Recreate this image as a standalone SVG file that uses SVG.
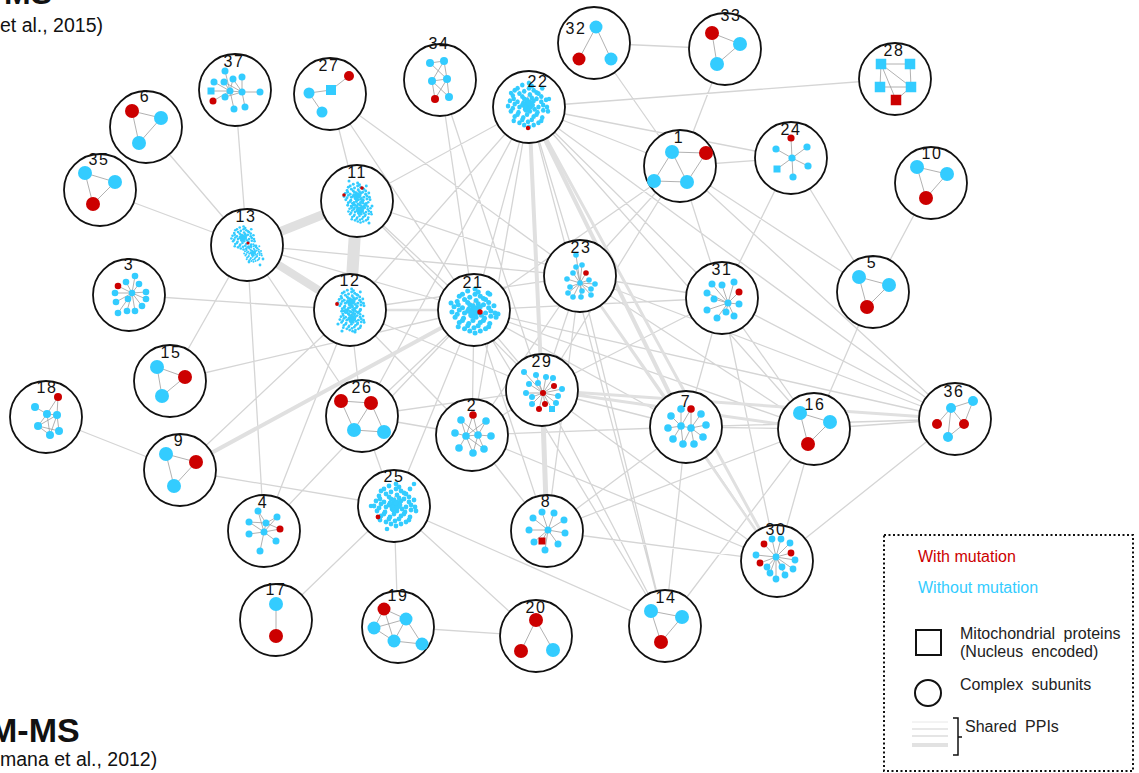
<svg xmlns="http://www.w3.org/2000/svg" width="1139" height="773" viewBox="0 0 1139 773">
<style>
.e{stroke:#d5d5d5;stroke-width:1.3;fill:none}
.m{stroke:#e0e0e0;fill:none}
.ring{fill:#fff;stroke:#111;stroke-width:1.8}
.ie{stroke:#9d9d9d;stroke-width:0.8;fill:none}
.b{fill:#33ccff}
.r{fill:#cc0000}
.lbl{font-family:"Liberation Sans",Arial,sans-serif;font-size:16px;fill:#111;text-anchor:middle;letter-spacing:1.5px}
.lg{font-family:"Liberation Sans",Arial,sans-serif;font-size:16px;fill:#222;word-spacing:4px}
.ttl{font-family:"Liberation Sans",Arial,sans-serif;fill:#111}
</style>
<defs>
<g id="cl">
<path class="ie" d="M-5,-3L4,2M-2,-6L1,5M-6,2L5,-2M-3,4L3,-4M-9,2L6,-4M0,-9L-1,7"/>
<g class="b">
<circle cx="-6" cy="-19" r="2.4"/><circle cx="1" cy="-21" r="2.4"/><circle cx="4" cy="-18" r="2.4"/>
<circle cx="-14" cy="-14" r="2.4"/><circle cx="-11" cy="-16" r="2.4"/><circle cx="-4" cy="-13" r="2.4"/><circle cx="1" cy="-16" r="2.4"/><circle cx="6" cy="-14" r="2.4"/><circle cx="9" cy="-12" r="2.4"/><circle cx="15" cy="-16" r="2.4"/>
<circle cx="-16" cy="-9" r="2.4"/><circle cx="-9" cy="-11" r="2.4"/><circle cx="-6" cy="-8" r="2.4"/><circle cx="2" cy="-10" r="2.4"/><circle cx="4" cy="-7" r="2.4"/><circle cx="11" cy="-11" r="2.4"/><circle cx="14" cy="-8" r="2.4"/>
<circle cx="-19" cy="-4" r="2.4"/><circle cx="-15" cy="-6" r="2.4"/><circle cx="-11" cy="-3" r="2.4"/><circle cx="-4" cy="-6" r="2.4"/><circle cx="-1" cy="-3" r="2.4"/><circle cx="6" cy="-4" r="2.4"/><circle cx="9" cy="-6" r="2.4"/><circle cx="14" cy="-3" r="2.4"/><circle cx="19" cy="-5" r="2.4"/>
<circle cx="-21" cy="1" r="2.4"/><circle cx="-14" cy="-1" r="2.4"/><circle cx="-9" cy="2" r="2.4"/><circle cx="-6" cy="0" r="2.4"/><circle cx="1" cy="1" r="2.4"/><circle cx="4" cy="-1" r="2.4"/><circle cx="11" cy="2" r="2.4"/><circle cx="16" cy="0" r="2.4"/><circle cx="20" cy="2" r="2.4"/>
<circle cx="-18" cy="6" r="2.4"/><circle cx="-16" cy="3" r="2.4"/><circle cx="-10" cy="7" r="2.4"/><circle cx="-3" cy="4" r="2.4"/><circle cx="2" cy="6" r="2.4"/><circle cx="7" cy="4" r="2.4"/><circle cx="10" cy="7" r="2.4"/><circle cx="16" cy="5" r="2.4"/><circle cx="21" cy="6" r="2.4"/>
<circle cx="-14" cy="11" r="2.4"/><circle cx="-11" cy="9" r="2.4"/><circle cx="-5" cy="12" r="2.4"/><circle cx="-1" cy="9" r="2.4"/><circle cx="6" cy="11" r="2.4"/><circle cx="9" cy="9" r="2.4"/><circle cx="15" cy="12" r="2.4"/>
<circle cx="-15" cy="15" r="2.4"/><circle cx="-9" cy="17" r="2.4"/><circle cx="-6" cy="14" r="2.4"/><circle cx="0" cy="16" r="2.4"/><circle cx="4" cy="14" r="2.4"/><circle cx="11" cy="17" r="2.4"/><circle cx="14" cy="15" r="2.4"/>
<circle cx="-4" cy="19" r="2.4"/><circle cx="1" cy="21" r="2.4"/><circle cx="6" cy="19" r="2.4"/>
<circle cx="-2" cy="-1" r="2.4"/><circle cx="2" cy="-3" r="2.4"/><circle cx="0" cy="3" r="2.4"/><circle cx="-3" cy="2" r="2.4"/><circle cx="3" cy="2" r="2.4"/><circle cx="-1" cy="-5" r="2.4"/><circle cx="5" cy="0" r="2.4"/><circle cx="-5" cy="-2" r="2.4"/><circle cx="1" cy="-2" r="2.4"/><circle cx="-2" cy="5" r="2.4"/>
</g>
</g>
</defs>

<!-- titles -->
<text class="ttl" x="52" y="4" font-size="32" font-weight="bold" text-anchor="end">MS</text>
<text class="ttl" x="0" y="32" font-size="19.5">et al., 2015)</text>
<text class="ttl" x="-11" y="742" font-size="34" font-weight="bold">M-MS</text>
<text class="ttl" x="0" y="766" font-size="19.5">mana et al., 2012)</text>

<g id="connectors">
<path class="e" d="M146 127L247 245M100 190L247 245M235 90L247 245M330 94L357 201M330 94L474 310M330 94L580 276M357 201L529 107M129 295L350 310M170 381L247 245M170 381L474 310M247 245L264 531M247 245L362 416M247 245L580 276M247 245L474 310M180 470L46 417M180 470L350 310M180 470L394 506M264 531L350 310M264 531L474 310M276 620L394 506M394 506L398 627M394 506L536 636M394 506L665 626M362 416L394 506M398 627L536 636M394 506L474 310M440 80L474 310M440 80L542 390M529 107L350 310M529 107L474 310M529 107L362 416M529 107L472 435M529 107L580 276M529 107L680 166M529 107L791 158M529 107L895 79M529 107L722 298M529 107L814 429M529 107L955 419M529 107L665 626M594 43L725 49M594 43L680 166M725 49L680 166M680 166L791 158M680 166L580 276M680 166L722 298M680 166L873 292M680 166L474 310M680 166L955 419M680 166L542 390M791 158L722 298M791 158L873 292M931 183L873 292M873 292L814 429M722 298L580 276M722 298L474 310M722 298L955 419M722 298L686 427M722 298L814 429M722 298L542 390M722 298L777 561M580 276L350 310M580 276L357 201M580 276L542 390M580 276L472 435M580 276L547 531M580 276L955 419M580 276L814 429M580 276L665 626M474 310L362 416M474 310L472 435M474 310L542 390M474 310L547 531M474 310L686 427M474 310L955 419M474 310L814 429M474 310L665 626M350 310L362 416M350 310L542 390M350 310L472 435M362 416L542 390M362 416L472 435M472 435L542 390M472 435L547 531M472 435L686 427M472 435L777 561M542 390L665 626M542 390L777 561M542 390L686 427M686 427L547 531M686 427L777 561M686 427L665 626M686 427L955 419M686 427L814 429M547 531L777 561M547 531L814 429M814 429L777 561M814 429L665 626M814 429L955 419M955 419L777 561M357 201L474 310M357 201L542 390"/>
<path class="m" stroke-width="12" d="M357 201L350 310"/>
<path class="m" stroke-width="9" d="M357 201L247 245"/>
<path class="m" stroke-width="8" d="M350 310L247 245"/>
<path class="m" stroke-width="4" d="M529 107L542 390M180 470L474 310M529 107L686 427"/>
<path class="m" stroke-width="5" d="M542 390L547 531"/>
<path class="m" stroke-width="3" d="M529 107L777 561M542 390L814 429M542 390L955 419"/>
<path class="m" stroke-width="2.5" d="M580 276L686 427M350 310L474 310M580 276L777 561"/>
</g>

<g id="n1" transform="translate(680,166)"><circle class="ring" r="36"/><path class="ie" d="M-8,-14L26,-13M-8,-14L-26,15M-8,-14L7,16M26,-13L7,16M-26,15L7,16"/><circle class="b" cx="-8" cy="-14" r="7"/><circle class="r" cx="26" cy="-13" r="7"/><circle class="b" cx="-26" cy="15" r="7"/><circle class="b" cx="7" cy="16" r="7"/><text class="lbl" x="-1" y="-23">1</text></g>

<g id="n2" transform="translate(472,435)"><circle class="ring" r="36"/><path class="ie" d="M-6,1L-11,-15M-6,1L14,-14M-6,1L-17,-2M-6,1L6,0M-6,1L-13,13M-6,1L12,14M-6,1L1,18M-6,1L1,-20M6,0L14,-14M6,0L19,1M6,0L12,14M6,0L-11,-15M6,0L1,18M6,0L1,-20"/><g class="b"><circle cx="-11" cy="-15" r="3.8"/><circle cx="14" cy="-14" r="3.8"/><circle cx="-17" cy="-2" r="3.8"/><circle cx="-6" cy="1" r="3.8"/><circle cx="6" cy="0" r="3.8"/><circle cx="19" cy="1" r="3.8"/><circle cx="-13" cy="13" r="3.8"/><circle cx="12" cy="14" r="3.8"/><circle cx="1" cy="18" r="3.8"/></g><circle class="r" cx="1" cy="-20" r="3.8"/><text class="lbl" x="0" y="-24">2</text></g>

<g id="n3" transform="translate(129,295)"><circle class="ring" r="36"/><path class="ie" d="M3,-2L6,-19M3,-2L-3,-13M3,-2L-11,-9M3,-2L10,-11M3,-2L-14,-2M3,-2L17,-3M3,-2L-13,7M3,-2L-1,4M3,-2L17,4M3,-2L13,11M3,-2L-11,18M3,-2L-2,16M3,-2L6,16"/><g class="b"><circle cx="6" cy="-19" r="3.3"/><circle cx="-3" cy="-13" r="3.3"/><circle cx="10" cy="-11" r="3.3"/><circle cx="-14" cy="-2" r="3.3"/><circle cx="3" cy="-2" r="3.3"/><circle cx="17" cy="-3" r="3.3"/><circle cx="-13" cy="7" r="3.3"/><circle cx="-1" cy="4" r="3.3"/><circle cx="17" cy="4" r="3.3"/><circle cx="13" cy="11" r="3.3"/><circle cx="-11" cy="18" r="3.3"/><circle cx="-2" cy="16" r="3.3"/><circle cx="6" cy="16" r="3.3"/></g><circle class="r" cx="-11" cy="-9" r="3.3"/><text class="lbl" x="0" y="-25">3</text></g>

<g id="n4" transform="translate(264,531)"><circle class="ring" r="36"/><path class="ie" d="M0,1L-6,-20M0,1L13,-14M0,1L-15,-9M0,1L2,-8M0,1L16,-2M0,1L-15,3M0,1L12,10M0,1L-4,20M2,-8L-6,-20M2,-8L13,-14M2,-8L16,-2M2,-8L-15,-9"/><g class="b"><circle cx="-6" cy="-20" r="3.5"/><circle cx="13" cy="-14" r="3.5"/><circle cx="-15" cy="-9" r="3.5"/><circle cx="2" cy="-8" r="3.5"/><circle cx="-15" cy="3" r="3.5"/><circle cx="0" cy="1" r="3.5"/><circle cx="12" cy="10" r="3.5"/><circle cx="-4" cy="20" r="3.5"/></g><circle class="r" cx="16" cy="-2" r="3.5"/><text class="lbl" x="-1" y="-23">4</text></g>

<g id="n5" transform="translate(873,292)"><circle class="ring" r="36"/><path class="ie" d="M-14,-15L16,-7L-6,15Z"/><circle class="b" cx="-14" cy="-15" r="7"/><circle class="b" cx="16" cy="-7" r="7"/><circle class="r" cx="-6" cy="15" r="7"/><text class="lbl" x="-1" y="-24">5</text></g>

<g id="n6" transform="translate(146,127)"><circle class="ring" r="36"/><path class="ie" d="M-14,-16L15,-9L-7,16Z"/><circle class="r" cx="-14" cy="-16" r="7"/><circle class="b" cx="15" cy="-9" r="7"/><circle class="b" cx="-7" cy="16" r="7"/><text class="lbl" x="-1" y="-25">6</text></g>

<g id="n7" transform="translate(686,427)"><circle class="ring" r="36"/><path class="ie" d="M-5,-1L5,-18M-5,-1L-5,-18M-5,-1L-15,-11M-5,-1L-18,1M-5,-1L-13,12M-5,-1L-3,17M-5,-1L5,1M5,1L15,-13M5,1L20,-2M5,1L17,10M5,1L8,17M5,1L5,-18M5,1L-3,17"/><g class="b"><circle cx="-5" cy="-18" r="3.8"/><circle cx="15" cy="-13" r="3.8"/><circle cx="-15" cy="-11" r="3.8"/><circle cx="20" cy="-2" r="3.8"/><circle cx="-5" cy="-1" r="3.8"/><circle cx="5" cy="1" r="3.8"/><circle cx="-18" cy="1" r="3.8"/><circle cx="17" cy="10" r="3.8"/><circle cx="-13" cy="12" r="3.8"/><circle cx="-3" cy="17" r="3.8"/><circle cx="8" cy="17" r="3.8"/></g><circle class="r" cx="5" cy="-18" r="3.8"/><text class="lbl" x="0" y="-20">7</text></g>

<g id="n8" transform="translate(547,531)"><circle class="ring" r="36"/><path class="ie" d="M1,-1L-5,-19M1,-1L7,-18M1,-1L-14,-13M1,-1L17,-11M1,-1L-18,-1M1,-1L18,2M1,-1L-13,11M1,-1L-5,10M1,-1L11,13M1,-1L-2,19"/><g class="b"><circle cx="-5" cy="-19" r="3.5"/><circle cx="7" cy="-18" r="3.5"/><circle cx="-14" cy="-13" r="3.5"/><circle cx="17" cy="-11" r="3.5"/><circle cx="-18" cy="-1" r="3.5"/><circle cx="1" cy="-1" r="3.5"/><circle cx="18" cy="2" r="3.5"/><circle cx="-13" cy="11" r="3.5"/><circle cx="11" cy="13" r="3.5"/><circle cx="-2" cy="19" r="3.5"/></g><rect class="r" x="-8.5" y="6.5" width="7" height="7"/><text class="lbl" x="-1" y="-24">8</text></g>

<g id="n9" transform="translate(180,470)"><circle class="ring" r="36"/><path class="ie" d="M-14,-16L16,-8L-6,16Z"/><circle class="b" cx="-14" cy="-16" r="7"/><circle class="r" cx="16" cy="-8" r="7"/><circle class="b" cx="-6" cy="16" r="7"/><text class="lbl" x="-1" y="-24">9</text></g>

<g id="n10" transform="translate(931,183)"><circle class="ring" r="36"/><path class="ie" d="M-14,-16L16,-9L-5,15Z"/><circle class="b" cx="-14" cy="-16" r="7"/><circle class="b" cx="16" cy="-9" r="7"/><circle class="r" cx="-5" cy="15" r="7"/><text class="lbl" x="1" y="-24">10</text></g>

<g id="n11" transform="translate(357,201)"><circle class="ring" r="36"/><use href="#cl" transform="translate(0,-5) scale(0.62)"/><use href="#cl" transform="translate(3,10) scale(0.55)"/><g class="b"><circle cx="-8" cy="-20" r="1.5"/><circle cx="12" cy="22" r="1.5"/><circle cx="15" cy="5" r="1.5"/></g><circle class="r" cx="-13" cy="-6" r="1.8"/><circle class="r" cx="5" cy="-13" r="1.8"/><text class="lbl" x="0" y="-23">11</text></g>

<g id="n12" transform="translate(350,310)"><circle class="ring" r="36"/><use href="#cl" transform="translate(1,-8) scale(0.62)"/><use href="#cl" transform="translate(2,9) scale(0.58)"/><g class="b"><circle cx="-8" cy="21" r="1.6"/><circle cx="5" cy="22" r="1.6"/><circle cx="-12" cy="14" r="1.6"/></g><circle class="r" cx="-13" cy="-6" r="1.9"/><text class="lbl" x="0" y="-24">12</text></g>

<g id="n13" transform="translate(247,245)"><circle class="ring" r="36"/><use href="#cl" transform="translate(-4,-7) scale(0.55)"/><use href="#cl" transform="translate(6,8) scale(0.42)"/><g class="b"><circle cx="13" cy="20" r="1.4"/><circle cx="16" cy="14" r="1.4"/><circle cx="2" cy="17" r="1.4"/><circle cx="9" cy="1" r="1.4"/></g><circle class="r" cx="1" cy="-2" r="1.6"/><text class="lbl" x="-1" y="-23">13</text></g>

<g id="n14" transform="translate(665,626)"><circle class="ring" r="36"/><path class="ie" d="M-14,-15L17,-9L-4,16Z"/><circle class="b" cx="-14" cy="-15" r="7"/><circle class="b" cx="17" cy="-9" r="7"/><circle class="r" cx="-4" cy="16" r="7"/><text class="lbl" x="1" y="-23">14</text></g>

<g id="n15" transform="translate(170,381)"><circle class="ring" r="36"/><path class="ie" d="M-13,-14L15,-4L-8,15Z"/><circle class="b" cx="-13" cy="-14" r="7"/><circle class="r" cx="15" cy="-4" r="7"/><circle class="b" cx="-8" cy="15" r="7"/><text class="lbl" x="1" y="-23">15</text></g>

<g id="n16" transform="translate(814,429)"><circle class="ring" r="36"/><path class="ie" d="M-14,-16L16,-7L-6,15Z"/><circle class="b" cx="-14" cy="-16" r="7"/><circle class="b" cx="16" cy="-7" r="7"/><circle class="r" cx="-6" cy="15" r="7"/><text class="lbl" x="1" y="-19">16</text></g>

<g id="n17" transform="translate(276,620)"><circle class="ring" r="36"/><path class="ie" d="M0,-16V16"/><circle class="b" cx="0" cy="-16" r="7"/><circle class="r" cx="0" cy="16" r="7"/><text class="lbl" x="0" y="-25">17</text></g>

<g id="n18" transform="translate(46,417)"><circle class="ring" r="36"/><path class="ie" d="M12,-20L11,-2M12,-20L1,-3M-11,-10L1,-3M1,-3L11,-2M1,-3L-8,9M1,-3L4,18M11,-2L-8,9M11,-2L13,14M-8,9L4,18M-8,9L13,14M11,-2L4,18"/><g class="b"><circle cx="-11" cy="-10" r="4"/><circle cx="1" cy="-3" r="4"/><circle cx="11" cy="-2" r="4"/><circle cx="-8" cy="9" r="4"/><circle cx="4" cy="18" r="4"/><circle cx="13" cy="14" r="4"/></g><circle class="r" cx="12" cy="-20" r="4"/><text class="lbl" x="1" y="-24">18</text></g>

<g id="n19" transform="translate(398,627)"><circle class="ring" r="36"/><path class="ie" d="M-14,-18L8,-8M-14,-18L-4,14M-14,-18L-24,1M8,-8L-24,1M8,-8L-4,14M8,-8L24,17M-24,1L-4,14M-4,14L24,17"/><circle class="r" cx="-14" cy="-18" r="6.5"/><g class="b"><circle cx="8" cy="-8" r="6.5"/><circle cx="-24" cy="1" r="6.5"/><circle cx="-4" cy="14" r="6.5"/><circle cx="24" cy="17" r="6.5"/></g><text class="lbl" x="0" y="-26">19</text></g>

<g id="n20" transform="translate(536,636)"><circle class="ring" r="36"/><path class="ie" d="M-15,15L0,-16L17,14"/><circle class="r" cx="0" cy="-16" r="7"/><circle class="r" cx="-15" cy="15" r="7"/><circle class="b" cx="17" cy="14" r="7"/><text class="lbl" x="0" y="-23">20</text></g>

<g id="n21" transform="translate(474,310)"><circle class="ring" r="36"/><use href="#cl" transform="translate(0,1) scale(1.05)"/><g class="b"><circle cx="24" cy="4" r="2.5"/><circle cx="14" cy="-17" r="2.5"/><circle cx="-23" cy="-7" r="2.5"/></g><circle class="r" cx="6" cy="2" r="2.7"/><text class="lbl" x="-1" y="-22">21</text></g>

<g id="n22" transform="translate(529,107)"><circle class="ring" r="36"/><use href="#cl" transform="translate(-1,-2) scale(0.95,1.05)"/><g class="b"><circle cx="-18" cy="-14" r="2.2"/><circle cx="20" cy="-8" r="2.2"/></g><circle class="r" cx="-1" cy="21" r="2.2"/><text class="lbl" x="9" y="-20">22</text></g>

<g id="n23" transform="translate(580,276)"><circle class="ring" r="36"/><path class="ie" d="M0,7L-4,-21M0,7L2,-11M0,7L-4,-9M0,7L6,-3M0,7L-7,-3M0,7L-13,3M0,7L9,4M0,7L15,8M0,7L-10,11M0,7L2,15M0,7L11,13M0,7L-7,21M0,7L1,21M0,7L11,19M0,7L-12,17"/><g class="b"><circle cx="-4" cy="-21" r="2.8"/><circle cx="2" cy="-11" r="2.8"/><circle cx="-4" cy="-9" r="2.8"/><circle cx="-7" cy="-3" r="2.8"/><circle cx="-13" cy="3" r="2.8"/><circle cx="0" cy="7" r="2.8"/><circle cx="9" cy="4" r="2.8"/><circle cx="15" cy="8" r="2.8"/><circle cx="-10" cy="11" r="2.8"/><circle cx="2" cy="15" r="2.8"/><circle cx="11" cy="13" r="2.8"/><circle cx="-7" cy="21" r="2.8"/><circle cx="1" cy="21" r="2.8"/><circle cx="11" cy="19" r="2.8"/><circle cx="-12" cy="17" r="2.8"/></g><circle class="r" cx="6" cy="-3" r="2.8"/><text class="lbl" x="1" y="-23">23</text></g>

<g id="n24" transform="translate(791,158)"><circle class="ring" r="36"/><path class="ie" d="M1,0L0,-20M1,0L-15,-9M1,0L16,-11M1,0L-14,11M1,0L17,8M1,0L2,19"/><circle class="r" cx="0" cy="-20" r="3.6"/><g class="b"><circle cx="-15" cy="-9" r="3.6"/><circle cx="16" cy="-11" r="3.6"/><circle cx="1" cy="0" r="3.6"/><rect x="-17.5" y="7.5" width="7" height="7"/><circle cx="17" cy="8" r="3.6"/><circle cx="2" cy="19" r="3.6"/></g><text class="lbl" x="0" y="-23">24</text></g>

<g id="n25" transform="translate(394,506)"><circle class="ring" r="36"/><use href="#cl" transform="translate(1,-1)"/><g class="b"><circle cx="20" cy="-22" r="2.3"/><circle cx="-23" cy="0" r="2.3"/><circle cx="-7" cy="23" r="2.3"/></g><circle class="r" cx="-16" cy="11" r="2.4"/><text class="lbl" x="0" y="-24">25</text></g>

<g id="n26" transform="translate(362,416)"><circle class="ring" r="36"/><path class="ie" d="M-21,-15L9,-13M-21,-15L-8,14M9,-13L-8,14M9,-13L22,16M-8,14L22,16"/><circle class="r" cx="-21" cy="-15" r="7"/><circle class="r" cx="9" cy="-13" r="7"/><circle class="b" cx="-8" cy="14" r="7"/><circle class="b" cx="22" cy="16" r="7"/><text class="lbl" x="0" y="-23">26</text></g>

<g id="n27" transform="translate(330,94)"><circle class="ring" r="36"/><path class="ie" d="M19,-18L1,-4L-21,-1L-8,18"/><circle class="r" cx="19" cy="-18" r="5"/><rect class="b" x="-4" y="-9" width="10" height="10"/><circle class="b" cx="-21" cy="-1" r="5.5"/><circle class="b" cx="-8" cy="18" r="5.5"/><text class="lbl" x="-1" y="-23">27</text></g>

<g id="n28" transform="translate(895,79)"><circle class="ring" r="36"/><path class="ie" d="M-14,-15H15M-14,-15L-15,8M-15,8H16M-14,-15L16,8M15,-15L16,8M-14,-15L1,21M16,8L1,21"/><g class="b"><rect x="-19.25" y="-20.25" width="10.5" height="10.5"/><rect x="9.75" y="-20.25" width="10.5" height="10.5"/><rect x="-20.25" y="2.75" width="10.5" height="10.5"/><rect x="10.75" y="2.75" width="10.5" height="10.5"/></g><rect class="r" x="-4.25" y="15.75" width="10.5" height="10.5"/><text class="lbl" x="-1" y="-23">28</text></g>

<g id="n29" transform="translate(542,390)"><circle class="ring" r="36"/><path class="ie" d="M1,3L-18,-18M1,3L-6,-15M1,3L4,-13M1,3L11,-12M1,3L-13,-6M1,3L-4,-7M1,3L12,-4M1,3L20,-1M1,3L-16,3M1,3L16,6M1,3L-10,7M1,3L3,14M1,3L-3,19M1,3L-10,14M1,3L10,19M1,3L14,13"/><g class="b"><circle cx="-18" cy="-18" r="3"/><circle cx="-6" cy="-15" r="3"/><circle cx="4" cy="-13" r="3"/><circle cx="11" cy="-12" r="3"/><circle cx="-13" cy="-6" r="3"/><circle cx="-4" cy="-7" r="3"/><circle cx="20" cy="-1" r="3"/><circle cx="-16" cy="3" r="3"/><circle cx="16" cy="6" r="3"/><circle cx="-10" cy="7" r="3"/><circle cx="-10" cy="14" r="3"/><rect x="7" y="16" width="6" height="6"/><circle cx="14" cy="13" r="3"/></g><g class="r"><circle cx="12" cy="-4" r="3"/><circle cx="1" cy="3" r="3"/><circle cx="3" cy="14" r="3"/><circle cx="-3" cy="19" r="3"/></g><text class="lbl" x="0" y="-23">29</text></g>

<g id="n30" transform="translate(777,561)"><circle class="ring" r="36"/><path class="ie" d="M-1,-4L-5,-22M-1,-4L4,-22M-1,-4L13,-18M-1,-4L-13,-17M-1,-4L14,-8M-1,-4L18,-1M-1,-4L-17,2M-1,-4L-10,6M-1,-4L5,6M-1,-4L16,8M-1,-4L-7,12M-1,-4L-1,18M-1,-4L8,14M-1,-4L-21,-6"/><g class="b"><circle cx="-5" cy="-22" r="3.4"/><circle cx="4" cy="-22" r="3.4"/><circle cx="13" cy="-18" r="3.4"/><circle cx="-1" cy="-4" r="3.4"/><circle cx="18" cy="-1" r="3.4"/><circle cx="-10" cy="6" r="3.4"/><circle cx="5" cy="6" r="3.4"/><circle cx="16" cy="8" r="3.4"/><circle cx="-7" cy="12" r="3.4"/><circle cx="-1" cy="18" r="3.4"/><circle cx="8" cy="14" r="3.4"/><circle cx="-21" cy="-6" r="3.4"/></g><g class="r"><circle cx="-13" cy="-17" r="3.4"/><circle cx="14" cy="-8" r="3.4"/><circle cx="-17" cy="2" r="3.4"/></g><text class="lbl" x="-1" y="-26">30</text></g>

<g id="n31" transform="translate(722,298)"><circle class="ring" r="36"/><path class="ie" d="M6,5L-10,-14M6,5L0,-13M6,5L12,-16M6,5L-15,-5M6,5L17,-6M6,5L-8,1M6,5L17,6M6,5L-15,12M6,5L4,14M6,5L-5,20M6,5L12,18"/><g class="b"><circle cx="-10" cy="-14" r="3.5"/><circle cx="0" cy="-13" r="3.5"/><circle cx="12" cy="-16" r="3.5"/><circle cx="-15" cy="-5" r="3.5"/><circle cx="-8" cy="1" r="3.5"/><circle cx="6" cy="5" r="3.5"/><circle cx="17" cy="6" r="3.5"/><circle cx="-15" cy="12" r="3.5"/><circle cx="4" cy="14" r="3.5"/><circle cx="-5" cy="20" r="3.5"/><circle cx="12" cy="18" r="3.5"/></g><circle class="r" cx="17" cy="-6" r="3.5"/><text class="lbl" x="0" y="-23">31</text></g>

<g id="n32" transform="translate(594,43)"><circle class="ring" r="36"/><path class="ie" d="M-15,16L2,-16L17,16"/><circle class="b" cx="2" cy="-16" r="6.5"/><circle class="r" cx="-15" cy="16" r="6.5"/><circle class="b" cx="17" cy="16" r="6.5"/><text class="lbl" x="-18" y="-9">32</text></g>

<g id="n33" transform="translate(725,49)"><circle class="ring" r="36"/><path class="ie" d="M-13,-16L15,-5L-8,15Z"/><circle class="r" cx="-13" cy="-16" r="7"/><circle class="b" cx="15" cy="-5" r="7"/><circle class="b" cx="-8" cy="15" r="7"/><text class="lbl" x="6" y="-28">33</text></g>

<g id="n34" transform="translate(440,80)"><circle class="ring" r="36"/><path class="ie" d="M-10,-17L4,-19M-10,-17L7,-1M4,-19L-8,1M4,-19L7,-1M-8,1L7,-1M-8,1L-5,19M-8,1L9,17M7,-1L9,17M7,-1L-5,19"/><g class="b"><circle cx="-10" cy="-17" r="4"/><circle cx="4" cy="-19" r="4"/><circle cx="-8" cy="1" r="4"/><circle cx="7" cy="-1" r="4"/><circle cx="9" cy="17" r="4"/></g><circle class="r" cx="-5" cy="19" r="4"/><text class="lbl" x="-1" y="-31">34</text></g>

<g id="n35" transform="translate(100,190)"><circle class="ring" r="36"/><path class="ie" d="M-15,-17L15,-8L-7,14Z"/><circle class="b" cx="-15" cy="-17" r="7"/><circle class="b" cx="15" cy="-8" r="7"/><circle class="r" cx="-7" cy="14" r="7"/><text class="lbl" x="-1" y="-25">35</text></g>

<g id="n36" transform="translate(955,419)"><circle class="ring" r="36"/><path class="ie" d="M-4,-11L18,-18M-4,-11L-18,5M-4,-11L9,5M-4,-11L-7,18M18,-18L9,5M9,5L-7,18"/><circle class="b" cx="-4" cy="-11" r="5"/><circle class="b" cx="18" cy="-18" r="5"/><circle class="r" cx="-18" cy="5" r="5"/><circle class="r" cx="9" cy="5" r="5"/><circle class="b" cx="-7" cy="18" r="5"/><text class="lbl" x="-1" y="-22">36</text></g>

<g id="n37" transform="translate(235,90)"><circle class="ring" r="36"/><path class="ie" d="M-5,1L-10,-19M-5,1L-21,-8M-5,1L-11,-8M-5,1L-2,-11M-5,1L-24,1M-5,1L7,2M-5,1L-22,11M-5,1L-10,7M-5,1L-1,19M7,2L7,-13M7,2L-2,-11M7,2L25,2M7,2L10,17M7,2L-10,7M7,2L-11,-8"/><g class="b"><circle cx="-10" cy="-19" r="3.5"/><circle cx="-21" cy="-8" r="3.5"/><circle cx="-11" cy="-8" r="3.5"/><circle cx="-2" cy="-11" r="3.5"/><circle cx="7" cy="-13" r="3.5"/><rect x="-27.5" y="-2.5" width="7" height="7"/><circle cx="-5" cy="1" r="3.5"/><circle cx="7" cy="2" r="3.5"/><circle cx="25" cy="2" r="3.5"/><circle cx="-10" cy="7" r="3.5"/><circle cx="-1" cy="19" r="3.5"/><circle cx="10" cy="17" r="3.5"/></g><circle class="r" cx="-22" cy="11" r="3.5"/><text class="lbl" x="-1" y="-23">37</text></g>

<g id="legend">
<rect x="884" y="535" width="249" height="236" fill="#fff" stroke="#111" stroke-width="2" stroke-dasharray="2 2.5"/>
<text class="lg" x="918" y="562" style="fill:#cc0000;word-spacing:0">With mutation</text>
<text class="lg" x="918" y="593" style="fill:#33ccff;word-spacing:0">Without mutation</text>
<rect x="916" y="630" width="25" height="25" fill="none" stroke="#111" stroke-width="2"/>
<text class="lg" x="960" y="639">Mitochondrial proteins</text>
<text class="lg" x="960" y="657">(Nucleus encoded)</text>
<circle cx="928" cy="693" r="13" fill="none" stroke="#111" stroke-width="2"/>
<text class="lg" x="960" y="690">Complex subunits</text>
<path d="M912 722H948" stroke="#e8e8e8" stroke-width="1"/>
<path d="M912 729H948" stroke="#e0e0e0" stroke-width="1.3"/>
<path d="M912 736H948" stroke="#dcdcdc" stroke-width="1.6"/>
<path d="M912 745H948" stroke="#e2e2e2" stroke-width="4"/>
<path d="M953 718H958V755H953M958 737H962" fill="none" stroke="#111" stroke-width="1.5"/>
<text class="lg" x="965" y="732">Shared PPIs</text>
</g>
</svg>
